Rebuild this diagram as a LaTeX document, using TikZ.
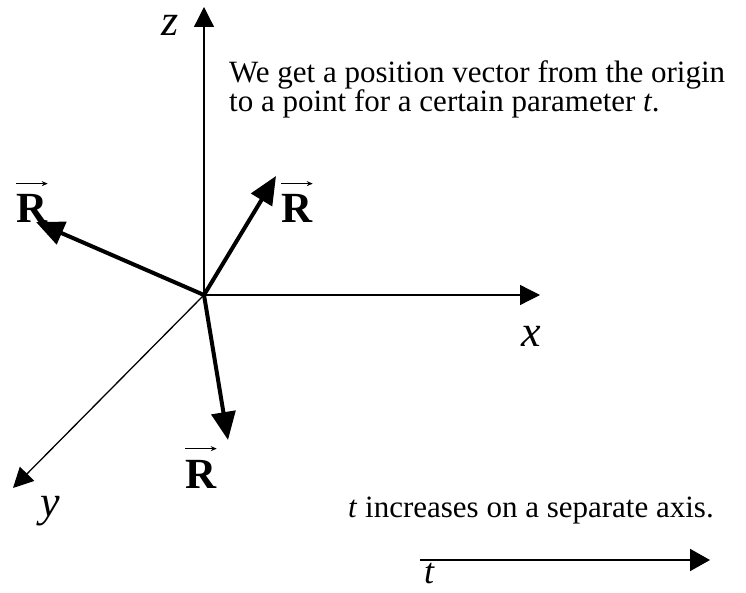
\documentclass[tikz,border=0pt]{standalone}
\usepackage{fontspec}
\setmainfont{Liberation Serif}
\usetikzlibrary{arrows.meta}
\begin{document}
\begin{tikzpicture}[x=1pt,y=1pt,
 axis/.style={line width=1.3pt,-{Triangle[length=20pt,width=20pt]}},
 vecarrow/.style={line width=4pt,-{Triangle[length=28pt,width=24pt]}},
 taxis/.style={line width=2pt,-{Triangle[length=20pt,width=22pt]}},
 lab/.style={inner sep=0pt,anchor=base,font=\fontsize{44}{50}\selectfont\itshape},
 rlab/.style={inner sep=0pt,anchor=base,font=\fontsize{43}{48}\selectfont\bfseries},
 rarrow/.style={line width=0.9pt,-{Stealth[length=6pt,width=5pt]}},
 txt/.style={inner sep=0pt,anchor=base west,font=\fontsize{31}{36}\selectfont}]
\useasboundingbox (0,0) rectangle (746,592);
\coordinate (O) at (204,297);
\coordinate (zt) at (204,585);
\coordinate (xt) at (540,297);
\coordinate (yt) at (13,104);
\coordinate (r1) at (36,370);
\coordinate (r2) at (276,416);
\coordinate (r3) at (228,152);
\coordinate (ts) at (420,32);
\coordinate (te) at (710,32);
% axes
\draw[axis] (O) -- (zt);
\draw[axis] (O) -- (xt);
\draw[axis] (O) -- (yt);
% position vectors
\draw[vecarrow] (O) -- (r1);
\draw[vecarrow] (O) -- (r2);
\draw[vecarrow] (O) -- (r3);
% t axis
\draw[taxis] (ts) -- (te);
% axis labels
\node[lab] (zl) at (170,556) {z};
\node[lab] (xl) at (531,245) {x};
\node[lab] (yl) at (50,76) {y};
\node[lab,font=\fontsize{36}{42}\selectfont\itshape] (tl) at (429,9) {t};
% R labels
\node[rlab] (R1) at (32,369) {R};
\node[rlab] (R2) at (297,369) {R};
\node[rlab] (R3) at (201,104) {R};
\foreach \n in {R1,R2,R3}
  \draw[rarrow] ([yshift=11pt]\n.north west) -- ([yshift=11pt]\n.north east);
% texts
\node[txt] (t1) at (229,509) {We get a position vector from the origin};
\node[txt] (t2) at (229,480) {to a point for a certain parameter \textit{t}.};
\node[txt] (t3) at (348,75) {\textit{t} increases on a separate axis.};
\end{tikzpicture}
\end{document}
